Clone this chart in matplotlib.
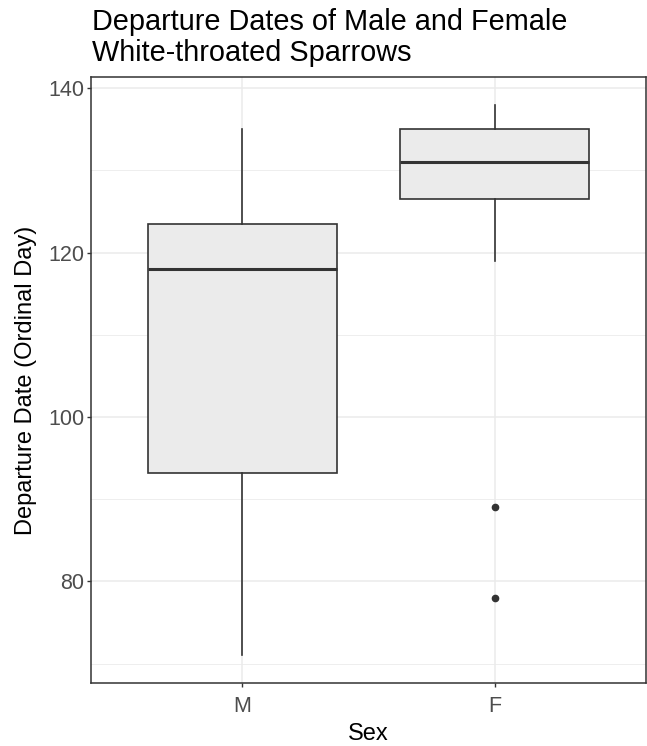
import numpy as np
import matplotlib
matplotlib.use("Agg")
import matplotlib.pyplot as plt

plt.rcParams['font.family'] = ['Liberation Sans', 'DejaVu Sans']

# box statistics
sexes = ["M", "F"]
whislo = [71, 119]
q1 = [93.2, 126.5]
med = [118, 131]
q3 = [123.5, 135]
whishi = [135, 138]
fliers = [[], [89, 78]]

stats = []
for i in range(len(sexes)):
    stats.append(dict(label=sexes[i], whislo=whislo[i], q1=q1[i], med=med[i],
                      q3=q3[i], whishi=whishi[i], fliers=fliers[i]))

fig = plt.figure(figsize=(6.47, 7.46), dpi=100)
ax = fig.add_axes([91/647, 1-683/746, 555/647, 606/746])

dark = "#333333"
ax.bxp(stats, positions=[1, 2], widths=0.75, patch_artist=True, showcaps=False,
       boxprops=dict(facecolor="#ebebeb", edgecolor=dark, linewidth=1.2),
       medianprops=dict(color=dark, linewidth=2.2),
       whiskerprops=dict(color=dark, linewidth=1.2),
       flierprops=dict(marker="o", markerfacecolor=dark, markeredgecolor=dark, markersize=4.5),
       zorder=3)

ax.set_xlim(0.4, 2.6)
ax.set_ylim(67.65, 141.35)
ax.set_yticks([80, 100, 120, 140])
ax.set_yticks([70, 90, 110, 130], minor=True)
ax.set_xticks([1, 2])
ax.set_xticklabels(sexes)

ax.grid(True, which="major", color="#ebebeb", linewidth=1.1, zorder=0)
ax.grid(True, which="minor", axis="y", color="#ebebeb", linewidth=0.6, zorder=0)
ax.set_axisbelow(True)
for s in ax.spines.values():
    s.set_color(dark)
    s.set_linewidth(1.1)

ax.tick_params(axis="both", which="major", colors=dark, labelcolor="#4d4d4d",
               labelsize=15.5, length=3, width=1, pad=2)
ax.tick_params(axis="x", which="major", pad=6)
ax.tick_params(axis="y", which="minor", length=0)

ax.set_xlabel("Sex", fontsize=17, labelpad=5)
ax.set_ylabel("Departure Date (Ordinal Day)", fontsize=17, labelpad=8)
fig.text(92/647, 1-8/746, "Departure Dates of Male and Female\nWhite-throated Sparrows",
         fontsize=20.8, ha="left", va="top", linespacing=1.15)

fig.savefig("out.png", dpi=100)
